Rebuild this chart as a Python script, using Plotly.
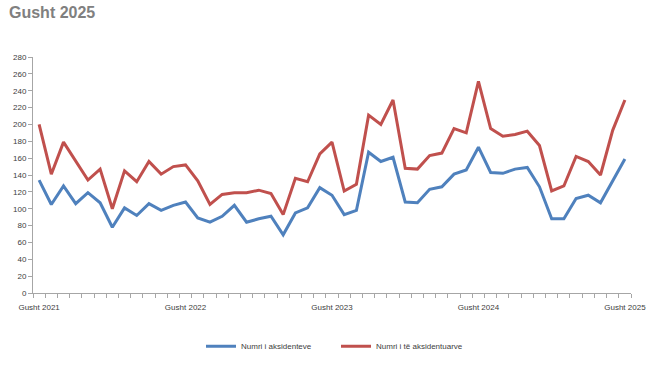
import plotly.graph_objects as go

months = list(range(49))
tick_positions = [0, 12, 24, 36, 48]
tick_labels = ["Gusht 2021", "Gusht 2022", "Gusht 2023", "Gusht 2024", "Gusht 2025"]

aksidente = [134, 105, 127, 106, 119, 107, 78, 101, 92, 106, 98, 104, 108, 89, 84, 91, 104,
             84, 88, 91, 69, 95, 101, 125, 116, 93, 98, 167, 156, 161, 108, 107, 123, 126,
             141, 146, 173, 143, 142, 147, 149, 126, 88, 88, 112, 116, 107, 133, 159]
aksidentuar = [200, 141, 179, 156, 134, 147, 100, 145, 132, 156, 141, 150, 152, 133, 105, 117, 119,
               119, 122, 118, 93, 136, 132, 165, 179, 121, 129, 211, 200, 229, 148, 147, 163, 166,
               195, 190, 251, 195, 186, 188, 192, 175, 121, 127, 162, 156, 140, 193, 229]

BLUE = "#4F81BD"
RED = "#C0504D"
FONT = "Liberation Sans"

fig = go.Figure()
fig.add_trace(go.Scatter(x=months, y=aksidente, mode="lines", name="Numri i aksidenteve",
                         line=dict(color=BLUE, width=3), legend="legend"))
fig.add_trace(go.Scatter(x=months, y=aksidentuar, mode="lines", name="Numri i të aksidentuarve",
                         line=dict(color=RED, width=3), legend="legend2"))
# invisible trace on secondary axis to carry boundary tick marks
fig.add_trace(go.Scatter(x=[-0.5, 48.5], y=[None, None], xaxis="x2", showlegend=False,
                         hoverinfo="skip"))

fig.update_layout(
    template="none",
    width=663, height=373,
    margin=dict(l=33, r=32, t=57, b=75),
    paper_bgcolor="white", plot_bgcolor="white",
    font=dict(family=FONT, size=8, color="#404040"),
    xaxis=dict(range=[-0.5, 48.5], tickvals=tick_positions, ticktext=tick_labels,
               ticks="", showgrid=False, zeroline=False, showline=True, automargin=False,
               ticklabelstandoff=6,
               linecolor="#A6A6A6", linewidth=1, tickfont=dict(size=8, color="#404040")),
    xaxis2=dict(range=[-0.5, 48.5], overlaying="x", side="bottom", anchor="y",
                tickvals=[i - 0.5 for i in range(50)], showticklabels=False, automargin=False,
                ticks="outside", ticklen=4, tickcolor="#A6A6A6", showgrid=False,
                zeroline=False, showline=False),
    yaxis=dict(range=[0, 280], tickvals=list(range(0, 281, 20)), ticks="outside",
               ticklen=4, tickcolor="#A6A6A6", showgrid=False, zeroline=False, automargin=False,
               showline=True, linecolor="#A6A6A6", linewidth=1,
               tickfont=dict(size=8, color="#404040")),
    legend=dict(orientation="h", x=(201 - 33) / 598, xanchor="left", y=-0.226, yanchor="middle",
                font=dict(size=8, color="#404040"), itemwidth=30, bgcolor="rgba(0,0,0,0)"),
    legend2=dict(orientation="h", x=(336 - 33) / 598, xanchor="left", y=-0.226, yanchor="middle",
                 font=dict(size=8, color="#404040"), itemwidth=30, bgcolor="rgba(0,0,0,0)"),
    annotations=[dict(text="<b>Gusht 2025</b>", xref="paper", yref="paper",
                      x=-26 / 598, y=1 + (57 - 12) / 240.7, xanchor="left", yanchor="middle",
                      showarrow=False, font=dict(family=FONT, size=16, color="#808080"))],
)

fig.write_html("out.html", config={"displayModeBar": False},
               post_script="document.body.style.margin='0';")
